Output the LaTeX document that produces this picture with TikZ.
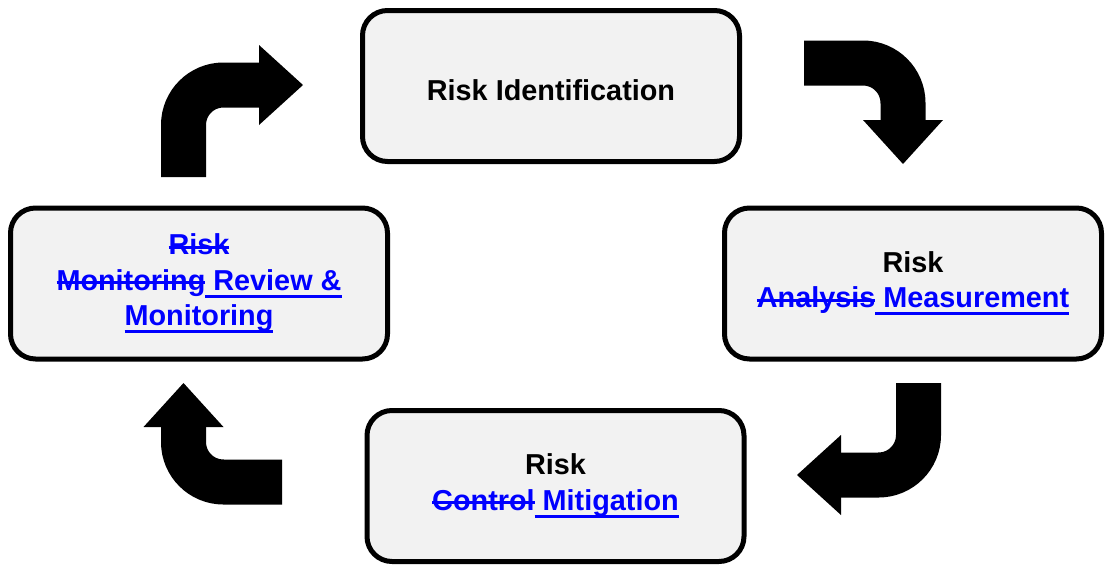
\documentclass[tikz,border=0pt]{standalone}
\usepackage{fontspec}
\setmainfont{Liberation Sans}
\usetikzlibrary{arrows.meta}
\definecolor{boxfill}{HTML}{F2F2F2}
% tracked changes: struck out and inserted words
\newsavebox{\chgbox}
\newcommand{\oldtxt}[1]{\sbox{\chgbox}{\color{blue}\relax#1}%
    \textcolor{blue}{\rlap{\usebox{\chgbox}}\rule[0.21em]{\wd\chgbox}{0.85pt}}}
\newcommand{\newtxt}[1]{\sbox{\chgbox}{\color{blue}\relax#1}%
    \textcolor{blue}{\rlap{\usebox{\chgbox}}\rule[-0.27em]{\wd\chgbox}{0.85pt}}}
\begin{document}
\begin{tikzpicture}[
    riskbox/.style={draw, line width=0.05cm, rounded corners=0.25cm, fill=boxfill,
        minimum width=3.77cm, minimum height=1.51cm, align=center,
        font=\fontsize{8.2}{10}\selectfont\bfseries,
        execute at begin node={\rule{0pt}{1.0em}}},
    turnarrow/.style={line width=0.45cm, rounded corners=0.4cm,
        -{Triangle[length=0.44cm, width=0.8cm, line width=0pt]}}
]
    \useasboundingbox (0,0) rectangle (11.05,5.65);

    % The four steps of the cycle
    \node[riskbox] (ident) at (5.51,4.79) {Risk Identification};
    \node[riskbox] (measure) at (9.13,2.815) {Risk\\ \oldtxt{Analysis}\newtxt{ Measurement}};
    \node[riskbox] (mitig) at (5.555,0.79) {Risk\\ \oldtxt{Control}\newtxt{ Mitigation}};
    \node[riskbox] (review) at (1.99,2.815) {\oldtxt{Risk}\\ \oldtxt{Monitoring}\newtxt{ Review \&}\\ \newtxt{Monitoring}};

    % Turning arrows between the steps
    \coordinate (a1s) at (1.835,3.88);
    \coordinate (a1e) at (3.03,4.80);
    \coordinate (a2s) at (8.04,5.02);
    \coordinate (a2e) at (9.03,4.01);
    \coordinate (a3s) at (9.185,1.82);
    \coordinate (a3e) at (7.97,0.90);
    \coordinate (a4s) at (2.82,0.83);
    \coordinate (a4e) at (1.835,1.82);
    \draw[turnarrow] (a1s) |- (a1e);
    \draw[turnarrow] (a2s) -| (a2e);
    \draw[turnarrow] (a3s) |- (a3e);
    \draw[turnarrow] (a4s) -| (a4e);
\end{tikzpicture}
\end{document}
